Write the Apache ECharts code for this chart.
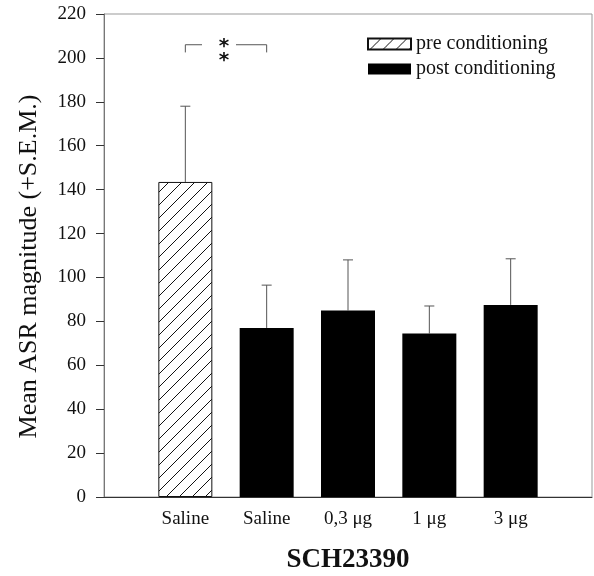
<!DOCTYPE html>
<html>
<head>
<meta charset="utf-8">
<script src="https://cdn.jsdelivr.net/npm/echarts@6/dist/echarts.min.js"></script>
<style>
  html, body { margin: 0; padding: 0; background: #fff; }
  #main { width: 594px; height: 576px; }
</style>
</head>
<body>
<div id="main"></div>
<script>
// slots 0 and 6 are empty, bars sit on 1..5
var categories = ['', 'Saline', 'Saline', '0,3 μg', '1 μg', '3 μg', ''];
var preMeans   = ['-', 143.5, '-', '-', '-', '-', '-'];
var postMeans  = ['-', '-', 77, 85, 74.5, 87.5, '-'];
var errTops    = [null, 178, 96.5, 108, 87, 108.5, null];
var yTicks     = { min: 0, max: 220, interval: 20 };

var serif = 'Liberation Serif';

// diagonal hatch for the pre conditioning bar
function hatch() {
  var c = document.createElement('canvas');
  c.width = 13; c.height = 13;
  var ctx = c.getContext('2d');
  ctx.fillStyle = '#fff';
  ctx.fillRect(0, 0, 13, 13);
  ctx.strokeStyle = '#111';
  ctx.lineWidth = 1;
  ctx.beginPath();
  ctx.moveTo(-1, 14); ctx.lineTo(14, -1);
  ctx.stroke();
  return c;
}

var errData = [];
for (var i = 0; i < categories.length; i++) {
  if (errTops[i] == null) continue;
  var m = preMeans[i] !== '-' ? preMeans[i] : postMeans[i];
  errData.push([i, m, errTops[i]]);
}

var myChart = echarts.init(document.getElementById('main'));
myChart.setOption({
  animation: false,
  grid: {
    left: 104, right: 2, top: 14, bottom: 79,
    outerBoundsMode: 'none', containLabel: false,
    show: true, borderColor: '#999', borderWidth: 1
  },
  legend: {
    orient: 'vertical',
    left: 362, top: 29,
    icon: 'rect',
    itemWidth: 43, itemHeight: 11, itemGap: 5,
    data: ['pre conditioning', 'post conditioning'],
    textStyle: { fontFamily: serif, fontSize: 20, color: '#111' }
  },
  xAxis: {
    type: 'category',
    data: categories,
    boundaryGap: false,
    axisLine: { lineStyle: { color: '#333' } },
    axisTick: { show: false },
    axisLabel: {
      interval: 0, margin: 13,
      fontFamily: serif, fontSize: 19, color: '#111'
    },
    name: 'SCH23390',
    nameLocation: 'middle',
    nameGap: 50,
    nameTextStyle: { fontFamily: serif, fontSize: 27, fontWeight: 'bold', color: '#111' }
  },
  yAxis: {
    type: 'value',
    min: yTicks.min, max: yTicks.max, interval: yTicks.interval,
    splitLine: { show: false },
    axisLine: { show: true, lineStyle: { color: '#777' } },
    axisTick: { show: true, length: 8, lineStyle: { color: '#333' } },
    axisLabel: { margin: 18, fontFamily: serif, fontSize: 19, color: '#111' },
    name: 'Mean ASR magnitude (+S.E.M.)',
    nameLocation: 'middle',
    nameGap: 62,
    nameTextStyle: { fontFamily: serif, fontSize: 26, color: '#111', padding: [0, 22, 0, 0] }
  },
  series: [
    {
      name: 'pre conditioning',
      type: 'bar',
      data: preMeans,
      barWidth: 54,
      barGap: '-100%',
      itemStyle: { color: { image: hatch(), repetition: 'repeat' }, borderColor: '#111', borderWidth: 1 }
    },
    {
      name: 'post conditioning',
      type: 'bar',
      data: postMeans,
      barWidth: 54,
      itemStyle: { color: '#000' }
    },
    {
      // upper SEM whiskers
      type: 'custom',
      data: errData,
      silent: true,
      z: 1,
      renderItem: function (params, api) {
        var base = api.coord([api.value(0), api.value(1)]);
        var top = api.coord([api.value(0), api.value(2)]);
        var st = { stroke: '#555', lineWidth: 1 };
        return {
          type: 'group',
          children: [
            { type: 'line', shape: { x1: base[0], y1: base[1], x2: top[0], y2: top[1] }, style: st },
            { type: 'line', shape: { x1: top[0] - 5, y1: top[1], x2: top[0] + 5, y2: top[1] }, style: st }
          ]
        };
      }
    },
    {
      // significance bracket between the two saline bars
      type: 'custom',
      data: [[1, 2, 206, 202.5]],
      silent: true,
      renderItem: function (params, api) {
        var a = api.coord([api.value(0), api.value(2)]);
        var b = api.coord([api.value(1), api.value(2)]);
        var d = api.coord([api.value(0), api.value(3)]);
        var mid = (a[0] + b[0]) / 2;
        var st = { stroke: '#555', lineWidth: 1, fill: null };
        return {
          type: 'group',
          children: [
            { type: 'polyline', shape: { points: [[a[0], d[1]], [a[0], a[1]], [mid - 24, a[1]]] }, style: st },
            { type: 'polyline', shape: { points: [[mid + 10, b[1]], [b[0], b[1]], [b[0], d[1]]] }, style: st },
            { type: 'text', style: { text: '*', x: mid - 2, y: a[1] + 2, align: 'center', verticalAlign: 'middle', font: 'bold 20px DejaVu Sans', fill: '#111' } },
            { type: 'text', style: { text: '*', x: mid - 2, y: a[1] + 16, align: 'center', verticalAlign: 'middle', font: 'bold 20px DejaVu Sans', fill: '#111' } }
          ]
        };
      }
    }
  ]
});
</script>
</body>
</html>
